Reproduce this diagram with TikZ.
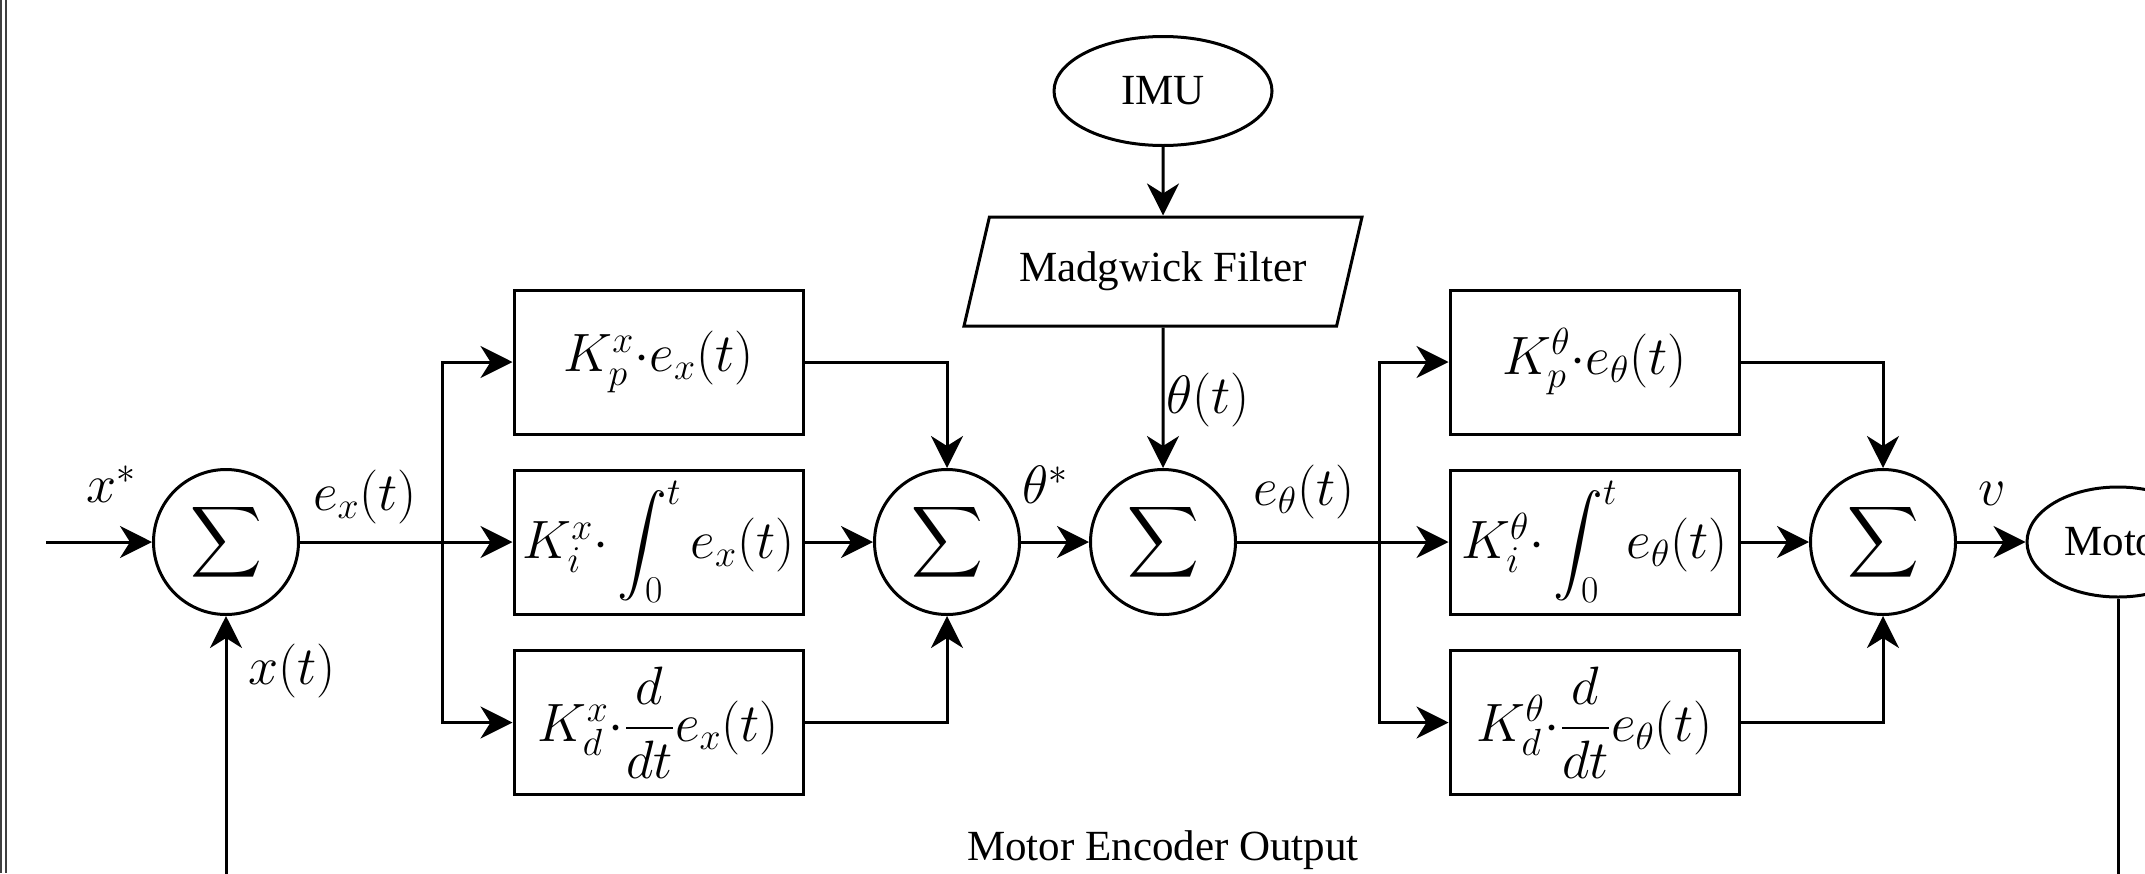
\RequirePackage{fix-cm}
\documentclass[tikz,border=0pt]{standalone}
\usepackage{exscale}
\usepackage[no-math]{fontspec}
\setmainfont{Liberation Serif}
\usetikzlibrary{arrows.meta,shapes.geometric}
\newcommand{\mathfs}{\fontsize{27}{32}\selectfont}
\newcommand{\txtfs}{\fontsize{21.5}{26}\selectfont}
\newcommand{\dotop}{{\cdot}}
\begin{document}
\begin{tikzpicture}[x=0.5pt,y=-0.5pt,
  line width=1.5pt,
  arr/.style={-{Stealth[length=16pt,width=16pt,inset=5pt]}},
  sumnode/.style={draw, circle, minimum size=72.5pt, inner sep=0pt, font=\fontsize{29.5}{34}\selectfont},
  pidbox/.style={draw, rectangle, minimum width=144.5pt, minimum height=72pt, inner sep=0pt, font=\mathfs},
  lbl/.style={inner sep=0pt, font=\mathfs},
  txt/.style={font=\txtfs, inner sep=0pt},
  oval/.style={draw, ellipse, inner sep=0pt, font=\txtfs},
]
\useasboundingbox (0,0) rectangle (2145,873);
\clip (0,0) rectangle (2145,873);
% frame lines at the left edge
\draw[line width=1pt, black!75] (1,0) -- (1,873);
\draw[line width=1pt, black!75] (6,0) -- (6,873);

% nodes
\node[sumnode] (s1) at (226,542) {$\displaystyle\sum$};
\node[pidbox] (kpx) at (658.5,362) {$K_p^x\dotop e_x(t)$};
\node[pidbox] (kix) at (658.5,542) {$K_i^x\dotop\displaystyle\int_0^t e_x(t)$};
\node[pidbox] (kdx) at (658.5,722.5) {$K_d^x\dotop\displaystyle\frac{d}{dt}e_x(t)$};
\node[sumnode] (s2) at (947,542) {$\displaystyle\sum$};
\node[sumnode] (s3) at (1163,542) {$\displaystyle\sum$};
\node[oval, minimum width=109pt, minimum height=54.5pt] (imu) at (1163,91) {IMU};
\node[draw, trapezium, trapezium left angle=57, trapezium right angle=123,
      trapezium stretches body, minimum width=199pt, minimum height=54.5pt,
      inner sep=0pt, font=\txtfs] (madg) at (1163,271.5) {Madgwick Filter};
\node[pidbox] (kpt) at (1594.5,362) {$K_p^\theta\dotop e_\theta(t)$};
\node[pidbox] (kit) at (1594.5,542) {$K_i^\theta\dotop\displaystyle\int_0^t e_\theta(t)$};
\node[pidbox] (kdt) at (1594.5,722.5) {$K_d^\theta\dotop\displaystyle\frac{d}{dt}e_\theta(t)$};
\node[sumnode] (s4) at (1883,542) {$\displaystyle\sum$};
\node[oval, minimum width=91pt, minimum height=55pt] (motor) at (2118,542) {Motor};

\coordinate (in) at (46,542);
\coordinate (bx) at (442,542);
\coordinate (bt) at (1379,542);
\coordinate (fb) at (2118,960);

% connectors
\draw[arr] (in) -- (s1.west);
\draw[arr] (s1.east) -- (kix.west);
\draw[arr] (bx) |- (kpx.west);
\draw[arr] (bx) |- (kdx.west);
\draw[arr] (kpx.east) -| (s2.north);
\draw[arr] (kix.east) -- (s2.west);
\draw[arr] (kdx.east) -| (s2.south);
\draw[arr] (s2.east) -- (s3.west);
\draw[arr] (imu) -- (madg);
\draw[arr] (madg) -- (s3);
\draw[arr] (s3.east) -- (kit.west);
\draw[arr] (bt) |- (kpt.west);
\draw[arr] (bt) |- (kdt.west);
\draw[arr] (kpt.east) -| (s4.north);
\draw[arr] (kit.east) -- (s4.west);
\draw[arr] (kdt.east) -| (s4.south);
\draw[arr] (s4.east) -- (motor.west);
\draw[arr] (motor.south) -- (fb) -| (s1.south);

% labels
\node[lbl] (lxs) at (111,484) {$x^*$};
\node[lbl] (lex) at (365,497) {$e_x(t)$};
\node[lbl] (lxt) at (292,671) {$x(t)$};
\node[lbl] (lths) at (1045,485) {$\theta^*$};
\node[lbl] (ltht) at (1208,400) {$\theta(t)$};
\node[lbl] (leth) at (1304,492) {$e_\theta(t)$};
\node[lbl] (lv) at (1992,494) {$v$};
\node[txt, anchor=base] (lenc) at (1163,860) {Motor Encoder Output};
\end{tikzpicture}
\end{document}
